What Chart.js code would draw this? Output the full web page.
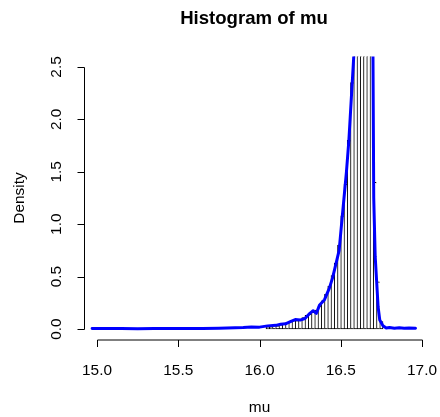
<!DOCTYPE html>
<html>
<head>
<meta charset="utf-8">
<script src="https://cdn.jsdelivr.net/npm/chart.js@4/dist/chart.umd.min.js"></script>
<style>
  body { margin: 0; background: #fff; }
  #wrap { width: 440px; height: 417px; }
</style>
</head>
<body>
<div id="wrap"><canvas id="histChart" width="440" height="417"></canvas></div>
<script>
// histogram of mu (bin mids, width 0.02) and density overlay
const binMids = [16.05, 16.07, 16.09, 16.11, 16.13, 16.15, 16.17, 16.19, 16.21, 16.23,
  16.25, 16.27, 16.29, 16.31, 16.33, 16.35, 16.37, 16.39, 16.41, 16.43,
  16.45, 16.47, 16.49, 16.51, 16.53, 16.55, 16.57, 16.59, 16.61, 16.63,
  16.65, 16.67, 16.69, 16.71, 16.73, 16.75];
const binHeights = [0.02, 0.02, 0.03, 0.03, 0.04, 0.05, 0.06, 0.07, 0.08, 0.08,
  0.09, 0.11, 0.13, 0.14, 0.16, 0.18, 0.22, 0.27, 0.33, 0.41,
  0.51, 0.63, 0.80, 1.08, 1.38, 1.80, 2.35, 3.2, 4.2, 5.2,
  6.0, 6.4, 6.0, 1.4, 0.45, 0.07];

const densX = [14.97, 15.05, 15.15, 15.25, 15.35, 15.45, 15.55, 15.65, 15.75, 15.85,
  15.90, 15.95, 16.00, 16.05, 16.10, 16.13, 16.16, 16.19, 16.22, 16.25,
  16.28, 16.31, 16.33, 16.35, 16.37, 16.40, 16.43, 16.45, 16.47, 16.49,
  16.505, 16.52, 16.535, 16.55, 16.565, 16.58, 16.60, 16.63, 16.66, 16.69,
  16.698, 16.703, 16.712, 16.73, 16.74, 16.76, 16.78, 16.80, 16.83, 16.86,
  16.89, 16.92, 16.96];
const densY = [0.005, 0.004, 0.006, 0.003, 0.005, 0.004, 0.005, 0.006, 0.008, 0.012,
  0.015, 0.02, 0.018, 0.03, 0.035, 0.045, 0.05, 0.07, 0.09, 0.085,
  0.10, 0.15, 0.175, 0.15, 0.23, 0.28, 0.39, 0.49, 0.62, 0.75,
  1.0, 1.25, 1.5, 1.8, 2.2, 2.6, 3.3, 4.4, 5.3, 5.0,
  2.7, 1.25, 0.69, 0.21, 0.086, 0.03, 0.01, 0.015, 0.008, 0.012,
  0.007, 0.01, 0.008];

const xTicks = [15.0, 15.5, 16.0, 16.5, 17.0];
const yTicks = [0.0, 0.5, 1.0, 1.5, 2.0, 2.5];

const FONT = '"Liberation Sans", Arial, sans-serif';

// R style axes, offset from the plot region
const rAxes = {
  id: 'rAxes',
  afterDraw(chart) {
    const ctx = chart.ctx;
    const xs = chart.scales.x, ys = chart.scales.y;
    const area = chart.chartArea;
    ctx.save();
    ctx.strokeStyle = '#000';
    ctx.fillStyle = '#000';
    ctx.lineWidth = 1;

    // x axis
    const axY = area.bottom + 0.5;
    ctx.beginPath();
    ctx.moveTo(Math.round(xs.getPixelForValue(xTicks[0])) + 0.5, axY);
    ctx.lineTo(Math.round(xs.getPixelForValue(xTicks[xTicks.length - 1])) + 0.5, axY);
    xTicks.forEach(v => {
      const px = Math.round(xs.getPixelForValue(v)) + 0.5;
      ctx.moveTo(px, axY);
      ctx.lineTo(px, axY + 7);
    });
    ctx.stroke();
    ctx.font = '15.4px ' + FONT;
    ctx.textAlign = 'center';
    ctx.textBaseline = 'alphabetic';
    xTicks.forEach(v => {
      ctx.fillText(v.toFixed(1), xs.getPixelForValue(v), 375);
    });

    // y axis
    const axX = area.left + 0.5;
    ctx.beginPath();
    ctx.moveTo(axX, Math.round(ys.getPixelForValue(yTicks[0])) + 0.5);
    ctx.lineTo(axX, Math.round(ys.getPixelForValue(yTicks[yTicks.length - 1])) + 0.5);
    yTicks.forEach(v => {
      const py = Math.round(ys.getPixelForValue(v)) + 0.5;
      ctx.moveTo(axX, py);
      ctx.lineTo(axX - 7, py);
    });
    ctx.stroke();
    yTicks.forEach(v => {
      ctx.save();
      ctx.translate(61, ys.getPixelForValue(v));
      ctx.rotate(-Math.PI / 2);
      ctx.fillText(v.toFixed(1), 0, 0);
      ctx.restore();
    });

    // axis titles
    ctx.fillText('mu', (area.left + area.right) / 2, 412);
    ctx.save();
    ctx.translate(24, (area.top + area.bottom) / 2);
    ctx.rotate(-Math.PI / 2);
    ctx.fillText('Density', 0, 0);
    ctx.restore();

    // main title
    ctx.font = 'bold 18.6px ' + FONT;
    ctx.fillText('Histogram of mu', 254, 24);
    ctx.restore();
  }
};

const lastBar = binMids.length - 1;

new Chart(document.getElementById('histChart'), {
  type: 'bar',
  data: {
    datasets: [{
      type: 'bar',
      data: binMids.map((m, i) => ({ x: m, y: binHeights[i] })),
      backgroundColor: '#ffffff',
      borderColor: '#000000',
      borderWidth: ctx => ({ top: 1, bottom: 1, left: 1, right: ctx.dataIndex === lastBar ? 1 : 0 }),
      borderSkipped: false,
      barPercentage: 1,
      categoryPercentage: 1,
      order: 2
    }, {
      type: 'line',
      data: densX.map((x, i) => ({ x: x, y: densY[i] })),
      borderColor: '#0000ff',
      borderWidth: 3,
      borderJoinStyle: 'round',
      borderCapStyle: 'round',
      pointRadius: 0,
      tension: 0,
      fill: false,
      order: 1
    }]
  },
  options: {
    responsive: false,
    animation: false,
    layout: { padding: { left: 84, right: 5, top: 56.5, bottom: 77.5 } },
    scales: {
      x: { type: 'linear', min: 14.92, max: 17.08, offset: false, display: false },
      y: { type: 'linear', min: -0.1, max: 2.6, display: false }
    },
    plugins: {
      legend: { display: false },
      tooltip: { enabled: false },
      title: { display: false }
    }
  },
  plugins: [rAxes]
});
</script>
</body>
</html>
